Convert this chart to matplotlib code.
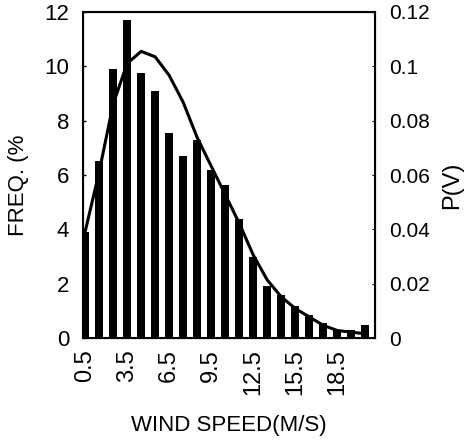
import matplotlib.pyplot as plt
import numpy as np

plt.rcParams['font.family'] = ['Liberation Sans', 'DejaVu Sans']

speed = [0.5, 1.5, 2.5, 3.5, 4.5, 5.5, 6.5, 7.5, 8.5, 9.5, 10.5,
         11.5, 12.5, 13.5, 14.5, 15.5, 16.5, 17.5, 18.5, 19.5, 20.5]
freq = [3.9, 6.5, 9.9, 11.7, 9.75, 9.1, 7.55, 6.7, 7.3, 6.2, 5.65,
        4.4, 3.0, 1.9, 1.6, 1.2, 0.85, 0.55, 0.3, 0.3, 0.5]
pv = [0.039, 0.061, 0.086, 0.101, 0.1055, 0.1035, 0.0967, 0.0868, 0.0738,
      0.0633, 0.0528, 0.0423, 0.0306, 0.0214, 0.0152, 0.0109, 0.0078,
      0.0047, 0.0028, 0.0022, 0.0016]
xticks = [0.5, 3.5, 6.5, 9.5, 12.5, 15.5, 18.5]

fig = plt.figure(figsize=(4.66, 4.42), dpi=100)
ax = fig.add_axes([0.178, 0.235, 0.627, 0.738])
ax.bar(speed, freq, width=0.55, color='black')
ax.set_xlim(0.35, 21.2)
ax.set_ylim(0, 12)
ax.set_yticks(range(0, 13, 2))
ax.set_xticks(xticks)
ax.set_xticklabels([str(v) for v in xticks], rotation=90, fontsize=17)
ax.tick_params(direction='in', length=2, width=1)
ax.tick_params(axis='y', labelsize=16, pad=10)
ax.tick_params(axis='x', pad=8)
ax.set_xlabel('WIND SPEED(M/S)', fontsize=16, labelpad=14)
ax.set_ylabel('FREQ. (%', fontsize=16)
ax.yaxis.set_label_coords(-0.185, 0.47)
for s in ax.spines.values():
    s.set_linewidth(1.5)

ax2 = ax.twinx()
ax2.plot(speed, pv, color='black', lw=2.2)
ax2.set_ylim(0, 0.12)
ax2.set_yticks([0, 0.02, 0.04, 0.06, 0.08, 0.1, 0.12])
ax2.set_yticklabels(['0', '0.02', '0.04', '0.06', '0.08', '0.1', '0.12'])
ax2.tick_params(direction='in', length=2, labelsize=15, pad=10)
ax2.set_ylabel('P(V)', fontsize=17)
ax2.yaxis.set_label_coords(1.225, 0.47)

fig.savefig('out.png', dpi=100)
